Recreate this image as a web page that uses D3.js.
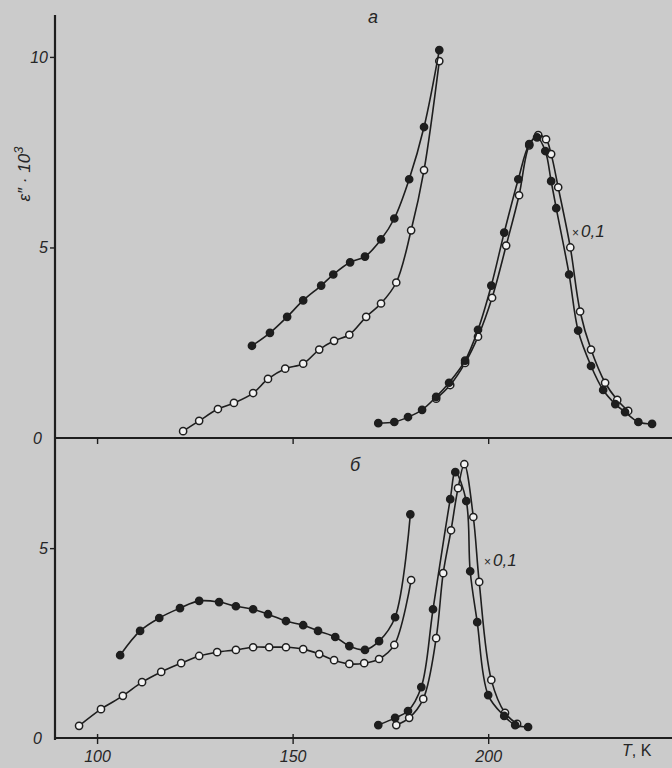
<!DOCTYPE html>
<html>
<head>
<meta charset="utf-8">
<script src="https://cdn.jsdelivr.net/npm/d3@7/dist/d3.min.js"></script>
<style>
  html, body { margin: 0; padding: 0; background: #cbcbcb; }
  svg { display: block; }
  text { font-family: "Liberation Sans", "DejaVu Sans", sans-serif; fill: #262626; }
</style>
</head>
<body>
<svg id="chart" width="672" height="768"></svg>
<script>
// Temperature T, K and dielectric loss ε''·10³ for the two samples (а, б).
// Peak series near 210 K (а) and 193 K (б) are plotted scaled by ×0,1.

// Panel а — low-temperature branch, filled markers
const aLowFilledT = [139.6, 144.2, 148.6, 152.7, 157.3, 160.4, 164.7, 168.5, 172.6, 176.0, 179.8, 183.6, 187.5];
const aLowFilledE = [2.42, 2.76, 3.18, 3.61, 4.00, 4.29, 4.61, 4.76, 5.21, 5.76, 6.79, 8.16, 10.18];
// Panel а — low-temperature branch, open markers
const aLowOpenT = [122.0, 126.1, 130.9, 135.0, 139.9, 143.7, 148.1, 152.7, 156.8, 160.6, 164.5, 168.8, 172.6, 176.5, 180.3, 183.6, 187.5];
const aLowOpenE = [0.18, 0.45, 0.76, 0.92, 1.18, 1.55, 1.82, 1.95, 2.32, 2.55, 2.71, 3.18, 3.53, 4.08, 5.45, 7.03, 9.89];
// Panel а — loss peak (×0,1), filled markers
const aPeakFilledT = [171.9, 176.0, 179.5, 183.1, 186.7, 190.0, 194.1, 197.4, 200.8, 204.1, 207.7, 210.5, 212.5, 214.6, 216.1, 217.4, 220.7, 223.0, 226.3, 229.4, 232.5, 235.0, 238.4, 241.9];
const aPeakFilledE = [0.39, 0.42, 0.55, 0.74, 1.08, 1.45, 2.03, 2.84, 4.00, 5.39, 6.79, 7.71, 7.89, 7.53, 6.74, 6.03, 4.29, 2.82, 1.89, 1.26, 0.89, 0.68, 0.42, 0.37];
// Panel а — loss peak (×0,1), open markers
const aPeakOpenT = [186.7, 190.3, 194.1, 197.4, 201.0, 204.6, 207.9, 210.5, 212.8, 214.8, 216.1, 217.9, 221.0, 223.5, 226.3, 229.9, 233.0, 235.8];
const aPeakOpenE = [1.03, 1.39, 1.97, 2.66, 3.68, 5.05, 6.37, 7.68, 7.95, 7.84, 7.45, 6.58, 5.00, 3.32, 2.32, 1.45, 1.00, 0.71];

// Panel б — low-temperature branch, filled markers
const bLowFilledT = [105.9, 111.0, 115.9, 121.2, 126.1, 131.2, 135.5, 139.9, 143.7, 148.3, 152.7, 156.5, 160.9, 164.5, 168.5, 172.1, 176.2, 180.1];
const bLowFilledE = [2.18, 2.82, 3.16, 3.42, 3.61, 3.58, 3.47, 3.39, 3.26, 3.08, 2.97, 2.82, 2.66, 2.42, 2.32, 2.55, 3.18, 5.89];
// Panel б — low-temperature branch, open markers
const bLowOpenT = [95.4, 101.0, 106.6, 111.5, 116.4, 121.5, 126.1, 130.7, 135.5, 139.9, 144.0, 148.3, 152.7, 156.8, 160.6, 164.5, 168.3, 172.1, 176.0, 180.3];
const bLowOpenE = [0.32, 0.76, 1.11, 1.47, 1.74, 1.97, 2.16, 2.26, 2.32, 2.39, 2.39, 2.39, 2.34, 2.21, 2.05, 1.95, 1.97, 2.08, 2.45, 4.16];
// Panel б — loss peak (×0,1), filled markers
const bPeakFilledT = [171.9, 176.2, 179.5, 182.9, 185.9, 190.3, 191.6, 194.4, 195.4, 197.2, 200.0, 204.1, 206.9, 210.2];
const bPeakFilledE = [0.34, 0.53, 0.71, 1.34, 3.39, 6.29, 7.00, 6.24, 4.39, 3.05, 1.13, 0.58, 0.34, 0.29];
// Panel б — loss peak (×0,1), open markers
const bPeakOpenT = [176.5, 179.8, 183.4, 186.7, 188.5, 190.5, 192.3, 193.9, 196.2, 197.7, 200.8, 204.3, 207.4];
const bPeakOpenE = [0.34, 0.53, 1.03, 2.63, 4.34, 5.47, 6.58, 7.21, 5.82, 4.11, 1.53, 0.66, 0.37];

// Axis ticks
const xTicks = [100, 150, 200];
const yTicksTop = [0, 5, 10];
const yTicksBottom = [0, 5];

const svg = d3.select("#chart");
const ink = "#1e1e1e";

const x = d3.scaleLinear().domain([89.5, 247]).range([56, 672]);
const yTop = d3.scaleLinear().domain([0, 11.1]).range([438, 15]);
const yBot = d3.scaleLinear().domain([0, 7.9]).range([738, 438]);

const zip = (ts, es) => ts.map((t, i) => ({ t, e: es[i] }));

function drawSeries(yScale, ts, es, filled) {
  const data = zip(ts, es);
  const line = d3.line()
    .x(d => x(d.t))
    .y(d => yScale(d.e))
    .curve(d3.curveCatmullRom.alpha(0.5));
  svg.append("path")
    .datum(data)
    .attr("d", line)
    .attr("fill", "none")
    .attr("stroke", ink)
    .attr("stroke-width", 1.6);
  svg.append("g")
    .selectAll("circle")
    .data(data)
    .join("circle")
    .attr("cx", d => x(d.t))
    .attr("cy", d => yScale(d.e))
    .attr("r", 3.6)
    .attr("fill", filled ? ink : "#f2f2f2")
    .attr("stroke", ink)
    .attr("stroke-width", 1.5);
}

// Vertical axis spanning both panels
svg.append("line")
  .attr("x1", 55).attr("x2", 55)
  .attr("y1", yTop.range()[1]).attr("y2", 740)
  .attr("stroke", ink).attr("stroke-width", 2.2);

const tickFont = g => g
  .style("font-size", "16px")
  .style("font-style", "italic")
  .style("font-family", "Liberation Sans, sans-serif")
  .attr("fill", "#262626");

// Horizontal axes
function xAxis(yPos, labels) {
  const g = svg.append("g")
    .attr("transform", `translate(0,${yPos})`)
    .call(d3.axisBottom(x).tickValues(xTicks).tickSize(6)
      .tickFormat(labels ? d3.format("d") : ""));
  g.select(".domain").remove();
  g.selectAll(".tick line").attr("stroke", ink).attr("stroke-width", 1.4)
    .attr("y1", labels ? -4 : 0);
  g.selectAll(".tick text").attr("dy", "0.95em").call(tickFont);
  svg.append("line")
    .attr("x1", 55).attr("x2", 672)
    .attr("y1", yPos).attr("y2", yPos)
    .attr("stroke", ink).attr("stroke-width", 2.2);
}
xAxis(yTop(0), false);
xAxis(yBot(0), true);

// Vertical tick marks and labels
function yAxis(scale, ticks) {
  const g = svg.append("g")
    .attr("transform", "translate(55,0)")
    .call(d3.axisLeft(scale).tickValues(ticks).tickSize(5).tickFormat(d3.format("d")));
  g.select(".domain").remove();
  g.selectAll(".tick line").attr("stroke", ink).attr("stroke-width", 1.4);
  g.selectAll(".tick")
    .filter(d => d === 0)
    .select("line").remove();
  g.selectAll(".tick text")
    .attr("x", d => d === 0 ? -13 : -7)
    .call(tickFont);
}
yAxis(yTop, yTicksTop);
yAxis(yBot, yTicksBottom);

// Data
drawSeries(yTop, aLowOpenT, aLowOpenE, false);
drawSeries(yTop, aLowFilledT, aLowFilledE, true);
drawSeries(yTop, aPeakOpenT, aPeakOpenE, false);
drawSeries(yTop, aPeakFilledT, aPeakFilledE, true);
drawSeries(yBot, bLowOpenT, bLowOpenE, false);
drawSeries(yBot, bLowFilledT, bLowFilledE, true);
drawSeries(yBot, bPeakOpenT, bPeakOpenE, false);
drawSeries(yBot, bPeakFilledT, bPeakFilledE, true);

// Panel letters
svg.append("text").attr("x", 373).attr("y", 23)
  .attr("text-anchor", "middle")
  .style("font-size", "18px").style("font-style", "italic")
  .text("а");
svg.append("text").attr("x", 355).attr("y", 471)
  .attr("text-anchor", "middle")
  .style("font-size", "18px").style("font-style", "italic")
  .text("б");

// Scale-factor notes on the peak curves
function scaleNote(px, py) {
  const t = svg.append("text").attr("x", px).attr("y", py)
    .style("font-size", "17px").style("font-style", "italic");
  t.append("tspan").style("font-size", "12px").style("font-style", "normal").text("×");
  t.append("tspan").attr("dx", 2).text("0,1");
}
scaleNote(572, 237);
scaleNote(484, 566);

// Axis titles
const yl = svg.append("text")
  .attr("transform", "translate(30,174) rotate(-90)")
  .attr("text-anchor", "middle")
  .style("font-size", "17px").style("font-style", "italic");
yl.append("tspan").text("ε″ · 10");
yl.append("tspan").attr("dy", -7).style("font-size", "13px").text("3");
const tk = svg.append("text").attr("x", 622).attr("y", 756)
  .style("font-size", "16px");
tk.append("tspan").style("font-style", "italic").text("T");
tk.append("tspan").text(", K");
</script>
</body>
</html>
